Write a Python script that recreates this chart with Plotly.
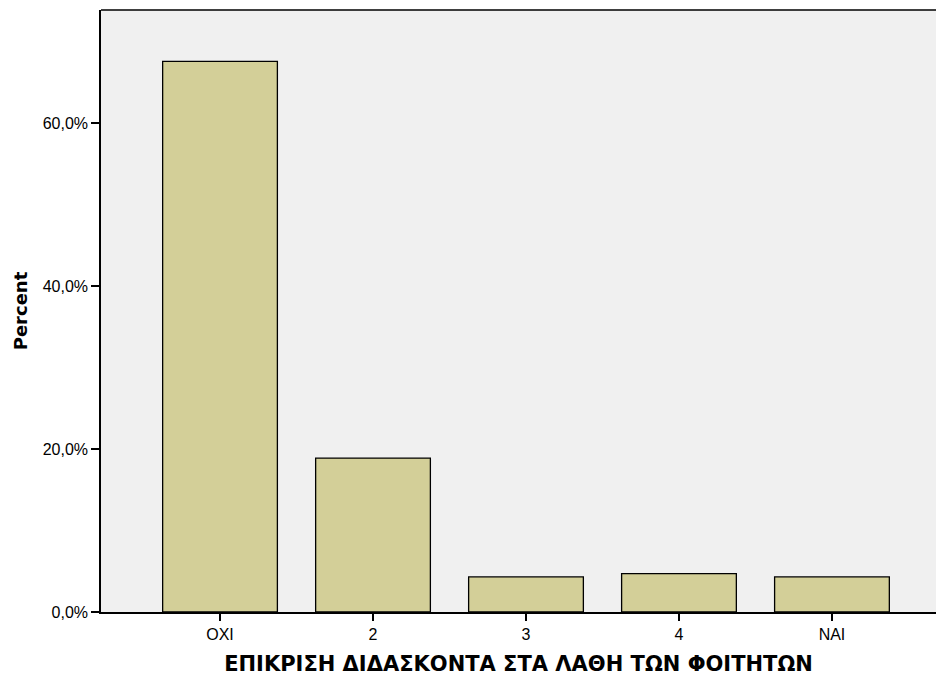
import plotly.graph_objects as go

categories = ["OXI", "2", "3", "4", "NAI"]
percent = [67.6, 18.9, 4.3, 4.7, 4.3]
ytick_vals = [0, 20, 40, 60]
ytick_text = ["0,0%", "20,0%", "40,0%", "60,0%"]

fig = go.Figure(go.Bar(
    x=categories, y=percent, width=0.75,
    marker=dict(color="#d3cf98", line=dict(color="black", width=1.3)),
))

# page body has an 8px margin; keep the page width inside the 944px window
fig.update_layout(
    width=928, height=671,
    margin=dict(l=93, r=0, t=2, b=67),
    paper_bgcolor="white", plot_bgcolor="#f0f0f0",
    font=dict(family="Liberation Sans, Arial, sans-serif", size=16, color="black"),
    showlegend=False,
    shapes=[dict(type="line", xref="paper", yref="paper", x0=0, x1=1, y0=1, y1=1,
                 line=dict(color="black", width=1.5))],
)
fig.update_xaxes(
    type="category", range=[-0.778, 4.68],
    showline=True, linecolor="black", linewidth=1.5, mirror=False,
    ticks="outside", ticklen=7, tickwidth=1.5, tickcolor="black",
    showgrid=False, automargin=False,
    title=dict(text="<b>ΕΠΙΚΡΙΣΗ ΔΙΔΑΣΚΟΝΤΑ ΣΤΑ ΛΑΘΗ ΤΩΝ ΦΟΙΤΗΤΩΝ</b>",
               font=dict(family="DejaVu Sans", size=21), standoff=14),
)
fig.update_yaxes(
    range=[0, 73.9], tickvals=ytick_vals, ticktext=ytick_text,
    showline=True, linecolor="black", linewidth=1.5, mirror=False,
    ticks="outside", ticklen=8, tickwidth=1.5, tickcolor="black",
    showgrid=False, zeroline=False, automargin=False,
    title=dict(text="<b>Percent</b>", font=dict(family="DejaVu Sans", size=18), standoff=10),
)

fig.write_html("out.html")
